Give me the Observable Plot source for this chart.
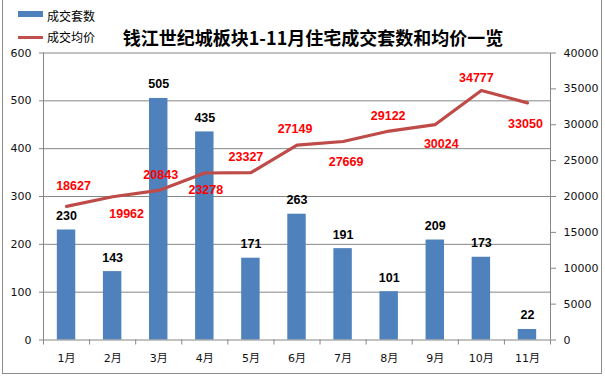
<!DOCTYPE html>
<html><head><meta charset="utf-8">
<script src="https://cdn.jsdelivr.net/npm/d3@7"></script>
<script src="https://cdn.jsdelivr.net/npm/@observablehq/plot@0.6"></script>
<style>
html,body{margin:0;padding:0;background:#fff;}
#wrap{position:relative;width:605px;height:378px;overflow:hidden;background:#fff;}
#chart{position:absolute;left:0;top:0;}
#frame{position:absolute;left:2px;top:-2px;width:600px;height:376px;border:1px solid #8c8c8c;box-sizing:border-box;pointer-events:none;}
.lg{position:absolute;font-family:"Noto Sans CJK SC",sans-serif;font-size:12px;line-height:14px;color:#000;white-space:nowrap;}
#title{position:absolute;left:313px;top:25px;transform:translateX(-50%);font-family:"Noto Sans CJK SC",sans-serif;font-weight:bold;font-size:18px;line-height:24px;color:#000;white-space:nowrap;}
</style>
</head><body>
<div id="wrap">
  <div id="chart"></div>
  <div id="frame"></div>
  <div id="title"></div>
  <div id="sw1" style="position:absolute;left:18px;top:11px;width:25px;height:6px;background:#4F81BD;"></div>
  <div id="lg1" class="lg" style="left:47px;top:9px;"></div>
  <div id="sw2" style="position:absolute;left:18px;top:36px;width:25px;height:3px;background:#C0504D;"></div>
  <div id="lg2" class="lg" style="left:47px;top:30px;"></div>
</div>
<script>
const titleText = "钱江世纪城板块1-11月住宅成交套数和均价一览";
const seriesNames = ["成交套数", "成交均价"];
const months = ["1月","2月","3月","4月","5月","6月","7月","8月","9月","10月","11月"];
const counts = [230, 143, 505, 435, 171, 263, 191, 101, 209, 173, 22];
const prices = [18627, 19962, 20843, 23278, 23327, 27149, 27669, 29122, 30024, 34777, 33050];
const leftTicks = [0, 100, 200, 300, 400, 500, 600];
const rightTicks = [0, 5000, 10000, 15000, 20000, 25000, 30000, 35000, 40000];

document.getElementById("title").textContent = titleText;
document.getElementById("lg1").textContent = seriesNames[0];
document.getElementById("lg2").textContent = seriesNames[1];

const ratio = rightTicks[rightTicks.length - 1] / leftTicks[leftTicks.length - 1];
const rows = months.map((m, i) => ({i, month: m, count: counts[i], price: prices[i]}));
const boundaries = d3.range(months.length + 1);

// label placement offsets for the price labels (as placed in the original)
const priceLabelOffsets = [[7,-20],[14,17],[2,-15],[1,17],[-5,-16],[-2,-16],[3,21],[-1,-15],[6,19],[-5,-12],[-2,21]];

const gray = "#868686";
const labelFont = "'Liberation Sans', Arial, sans-serif";

const marks = [
  Plot.ruleY(leftTicks.slice(1), {stroke: gray, strokeWidth: 1}),
  Plot.rectY(rows, {x1: d => d.i + 0.3, x2: d => d.i + 0.7, y1: 0, y2: d => d.count, fill: "#4F81BD"}),
  Plot.ruleY([0], {stroke: gray}),
  Plot.ruleX([0, months.length], {stroke: gray}),
  Plot.axisY(leftTicks, {anchor: "left", tickSize: 4, tickPadding: 8, stroke: gray, fill: "#111", fontSize: 11}),
  Plot.axisY(rightTicks.map(v => v / ratio), {anchor: "right", tickSize: 5, tickPadding: 8, stroke: gray, fill: "#111", fontSize: 11, tickFormat: d => String(Math.round(d * ratio))}),
  Plot.axisX(boundaries, {anchor: "bottom", tickSize: 5, tickFormat: () => "", stroke: gray}),
  Plot.axisX(rows.map(d => d.i + 0.5), {anchor: "bottom", tickSize: 0, tickPadding: 14, fill: "#111", fontSize: 11, tickFormat: d => months[Math.floor(d)]}),
  Plot.line(rows, {x: d => d.i + 0.5, y: d => d.price / ratio, stroke: "#BE4B48", strokeWidth: 3.2}),
  Plot.text(rows, {x: d => d.i + 0.5, y: d => d.count, text: d => String(d.count), dy: -14, fill: "#000", fontWeight: "bold", fontSize: 12.5, fontFamily: labelFont}),
  ...rows.map((d, k) => Plot.text([d], {x: r => r.i + 0.5, y: r => r.price / ratio, text: r => String(r.price), dx: priceLabelOffsets[k][0], dy: priceLabelOffsets[k][1], fill: "#FF0000", fontWeight: "bold", fontSize: 12.5, fontFamily: labelFont}))
];

const chart = Plot.plot({
  width: 605,
  height: 378,
  marginLeft: 43,
  marginRight: 55,
  marginTop: 52.5,
  marginBottom: 38.5,
  x: {type: "linear", domain: [0, months.length]},
  y: {type: "linear", domain: [0, leftTicks[leftTicks.length - 1]]},
  style: {fontFamily: "'DejaVu Sans', 'Noto Sans CJK SC', sans-serif", fontSize: "11px", background: "transparent", overflow: "visible"},
  marks
});
document.getElementById("chart").appendChild(chart);
</script>
</body></html>
